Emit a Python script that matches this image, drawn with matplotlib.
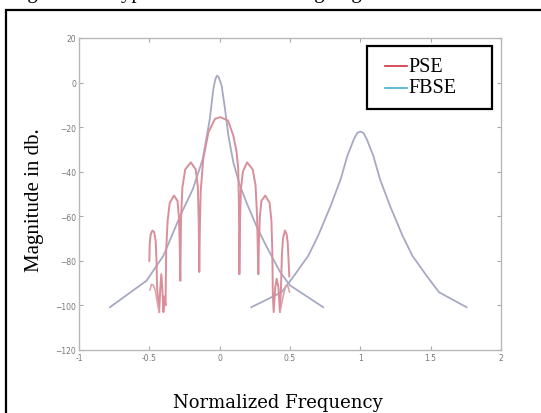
import matplotlib
matplotlib.use('Agg')
import matplotlib.pyplot as plt
from matplotlib.patches import Rectangle
from matplotlib.lines import Line2D

# FBSE response, main lobe centred at 0
fbse0_x = [-0.78, -0.52, -0.40, -0.28, -0.19, -0.12, -0.07, -0.045, -0.032, -0.02,
           -0.008, 0.004, 0.014, 0.038, 0.062, 0.097, 0.144, 0.19, 0.26, 0.33,
           0.43, 0.50, 0.736]
fbse0_y = [-100.8, -88.9, -77.7, -59.7, -47.7, -34.3, -16.3, -2.9, 1.2, 3.1,
           2.6, 0.5, -1.4, -11.8, -23.8, -35.8, -46.2, -53.7, -64.2, -73.2,
           -85.0, -91.0, -100.8]

# FBSE response, shifted copy centred at 1
fbse1_x = [0.225, 0.44, 0.53, 0.63, 0.70, 0.79, 0.861, 0.908, 0.955, 0.978,
           1.0, 1.022, 1.045, 1.092, 1.139, 1.21, 1.30, 1.37, 1.47, 1.56, 1.755]
fbse1_y = [-100.8, -94.1, -86.6, -77.7, -68.7, -55.2, -43.2, -32.8, -25.3, -22.6,
           -22.0, -22.6, -25.3, -32.8, -43.2, -55.2, -68.7, -77.7, -86.6, -94.1, -100.8]

# PSE response (main lobe and side lobes, left to right)
pse_x = [-0.500, -0.497, -0.490, -0.478, -0.466, -0.455, -0.449, -0.445,
         -0.438, -0.430, -0.422, -0.415, -0.408, -0.400, -0.392,
         -0.385, -0.380, -0.370, -0.355, -0.325, -0.300, -0.290, -0.284, -0.280,
         -0.275, -0.265, -0.245, -0.205, -0.170, -0.155, -0.149, -0.145,
         -0.140, -0.135, -0.117, -0.080, -0.033, 0.005, 0.060, 0.097, 0.120,
         0.132, 0.137, 0.140,
         0.145, 0.151, 0.165, 0.195, 0.235, 0.255, 0.266, 0.275,
         0.279, 0.286, 0.297, 0.325, 0.355, 0.368, 0.374, 0.378,
         0.384, 0.395, 0.405, 0.418, 0.428, 0.436,
         0.442, 0.450, 0.464, 0.476, 0.484, 0.490, 0.495]
pse_y = [-80.0, -72.0, -68.0, -66.4, -67.0, -71.0, -80.0, -92.0,
         -97.0, -103.0, -92.0, -86.0, -92.0, -103.0, -96.0,
         -100.0, -75.0, -62.0, -54.0, -50.7, -53.0, -60.0, -72.0, -89.0,
         -62.0, -47.0, -39.0, -35.8, -39.0, -47.0, -62.0, -85.0,
         -62.0, -49.0, -34.3, -22.3, -16.3, -15.5, -17.1, -23.8, -31.0,
         -38.8, -55.0, -86.0,
         -62.0, -48.0, -40.0, -35.8, -39.0, -46.0, -60.0, -86.0,
         -72.0, -60.0, -53.0, -50.7, -54.0, -62.0, -75.0, -95.0,
         -103.0, -92.0, -88.0, -92.0, -103.0, -92.0,
         -78.0, -70.0, -66.4, -68.0, -72.0, -80.0, -87.0]

# lower PSE trace near the band edges
pse_low_l_x = [-0.495, -0.485, -0.470, -0.455, -0.442, -0.430]
pse_low_l_y = [-93.0, -90.5, -91.0, -94.0, -99.0, -103.0]
pse_low_r_x = [0.430, 0.444, 0.458, 0.472, 0.486, 0.497]
pse_low_r_y = [-103.0, -98.0, -94.0, -91.0, -91.5, -94.0]

xticks = [-1, -0.5, 0, 0.5, 1, 1.5, 2]
xticklabels = ['-1', '-0.5', '0', '0.5', '1', '1.5', '2']
yticks = [-120, -100, -80, -60, -40, -20, 0, 20]

legend_labels = ['PSE', 'FBSE']
legend_colors = ['#d03040', '#40b0d0']

W, H = 541, 414


def fx(px):
    return px / W


def fy(py):
    return 1 - py / H


fig = plt.figure(figsize=(5.41, 4.14), dpi=100)

# caption of the page, cut off by the screenshot (only the lowest part shows)
fig.text(fx(10), fy(3), 'Fig. 5: Prototype Filter used for designing a Filter',
         fontsize=15, family='Liberation Serif', va='bottom', ha='left')

# frame around the figure in the document
fig.patches.append(Rectangle((fx(6), -0.05), 1.2, fy(11) + 0.05,
                             transform=fig.transFigure, fill=False,
                             edgecolor='black', linewidth=1.6))

ax = fig.add_axes([fx(79), fy(351), fx(501) - fx(79), fy(39) - fy(351)])

gray_c = '#a7a9c4'
ax.plot(fbse0_x, fbse0_y, color=gray_c, linewidth=1.3)
ax.plot(fbse1_x, fbse1_y, color=gray_c, linewidth=1.3)
ax.plot(pse_x, pse_y, color='#d98e9a', linewidth=1.4)
ax.plot(pse_low_l_x, pse_low_l_y, color='#dba3ad', linewidth=1.2)
ax.plot(pse_low_r_x, pse_low_r_y, color='#dba3ad', linewidth=1.2)

ax.set_xlim(-1, 2)
ax.set_ylim(-120, 20)
ax.set_xticks(xticks)
ax.set_xticklabels(xticklabels)
ax.set_yticks(yticks)
ax.tick_params(direction='in', length=3, width=0.8, colors='#aaaaaa',
               labelcolor='#777777', labelsize=5.5, top=True, right=True, pad=2)
for sp in ax.spines.values():
    sp.set_color('#b8b8b8')
    sp.set_linewidth(1.0)

fig.text(fx(34), fy(200), 'Magnitude in db.', fontsize=15, family='Liberation Serif',
         rotation=90, ha='center', va='center')
fig.text(fx(278), fy(403), 'Normalized Frequency', fontsize=13,
         family='DejaVu Serif', ha='center', va='center')

# legend box drawn by hand to match the padding of the original
fig.patches.append(Rectangle((fx(367), fy(110)), fx(492) - fx(367), fy(47) - fy(110),
                             transform=fig.transFigure, fill=True, facecolor='white',
                             edgecolor='black', linewidth=1.6, zorder=5))
for i, (lab, col) in enumerate(zip(legend_labels, legend_colors)):
    yy = fy(67 + 21.5 * i)
    fig.lines.append(Line2D([fx(385), fx(407)], [yy, yy], transform=fig.transFigure,
                            color=col, linewidth=1.2, zorder=6))
    fig.text(fx(408), yy, lab, fontsize=14.5, family='Liberation Serif',
             ha='left', va='center', zorder=6)

fig.savefig('out.png', dpi=100)
